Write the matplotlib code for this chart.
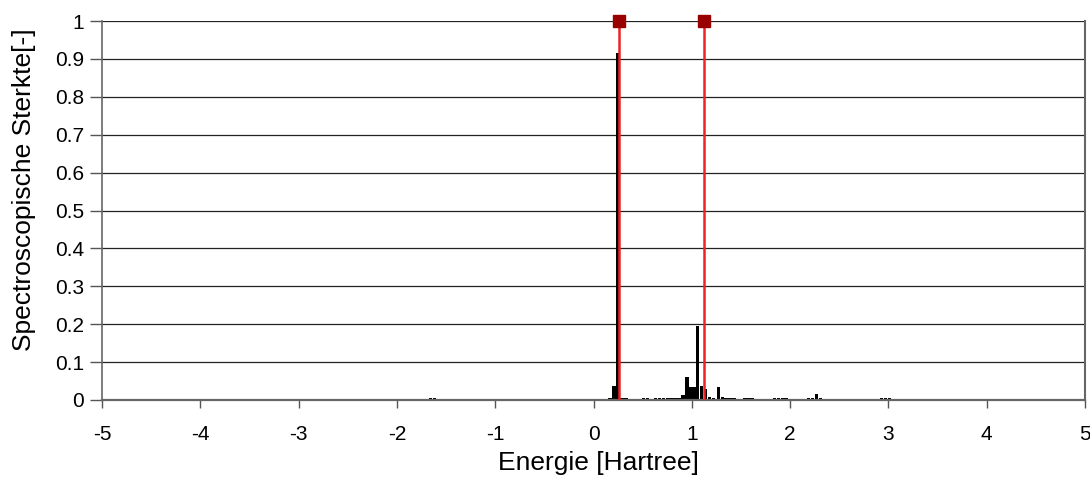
import matplotlib
matplotlib.use('Agg')
import matplotlib.pyplot as plt

# ===========================
# Daten
# ===========================

# Energie der Balken [Hartree] und spectroscopische Sterkte
energie = [-1.66, -1.62,
           0.17, 0.21, 0.25, 0.29, 0.33, 0.37, 0.51, 0.55,
           0.63, 0.67, 0.71, 0.75, 0.79, 0.83, 0.87, 0.91, 0.95, 0.99,
           1.03, 1.06, 1.10, 1.14, 1.18, 1.22, 1.27, 1.31, 1.35, 1.39,
           1.43, 1.54, 1.58, 1.62, 1.84, 1.88, 1.92, 1.96,
           2.19, 2.23, 2.27, 2.31, 2.93, 2.97, 3.01]
sterkte = [0.005, 0.005,
           0.004, 0.036, 0.915, 0.006, 0.004, 0.003, 0.005, 0.004,
           0.004, 0.004, 0.004, 0.004, 0.004, 0.004, 0.005, 0.012, 0.060, 0.035,
           0.035, 0.196, 0.038, 0.030, 0.008, 0.006, 0.034, 0.008, 0.005, 0.004,
           0.004, 0.004, 0.004, 0.004, 0.004, 0.004, 0.004, 0.004,
           0.004, 0.004, 0.017, 0.004, 0.004, 0.004, 0.004]

# Referenzlinien (rot)
referenz_energie = [0.26, 1.12]
referenz_sterkte = [1.0, 1.0]

x_ticks = [-5, -4, -3, -2, -1, 0, 1, 2, 3, 4, 5]
y_ticks = [0, 0.1, 0.2, 0.3, 0.4, 0.5, 0.6, 0.7, 0.8, 0.9, 1]
y_labels = ['0', '0.1', '0.2', '0.3', '0.4', '0.5', '0.6', '0.7', '0.8', '0.9', '1']

plt.rcParams['font.family'] = ['Liberation Sans', 'DejaVu Sans']

fig = plt.figure(figsize=(10.9, 4.78), dpi=100)
ax = fig.add_axes([0.0936, 0.1632, 0.9018, 0.7928])

# Gitterlinien
for y in y_ticks[1:]:
    ax.axhline(y, color='#222222', linewidth=0.9, zorder=1)

# Balken
ax.bar(energie, sterkte, width=0.035, color='black', zorder=2)

# Referenzlinien mit Markern
for e, s in zip(referenz_energie, referenz_sterkte):
    ax.plot([e, e], [0, s], color='#EE2222', linewidth=1.8, zorder=3)
    ax.plot([e], [s], marker='s', markersize=8, color='#990000',
            markeredgecolor='#990000', zorder=4, clip_on=False)

ax.set_xlim(-5, 5)
ax.set_ylim(0, 1)
ax.set_xticks(x_ticks)
ax.set_xticklabels([str(t) for t in x_ticks])
ax.set_yticks(y_ticks)
ax.set_yticklabels(y_labels)
ax.tick_params(axis='both', direction='out', width=1, color='#555555',
               labelsize=15, labelcolor='black')
ax.tick_params(axis='y', length=9, pad=4)
ax.tick_params(axis='x', length=6, pad=12)

for side in ['left', 'bottom', 'right']:
    ax.spines[side].set_color('#666666')
ax.spines['bottom'].set_linewidth(1.6)
ax.spines['right'].set_linewidth(1.5)
ax.spines['left'].set_linewidth(1.2)
ax.spines['top'].set_visible(False)

ax.set_xlabel('Energie [Hartree]', fontsize=19)
ax.set_ylabel('Spectroscopische Sterkte[-]', fontsize=19)
ax.xaxis.set_label_coords(0.505, -0.135)
ax.yaxis.set_label_coords(-0.067, 0.554)

fig.savefig('out.png', dpi=100)
